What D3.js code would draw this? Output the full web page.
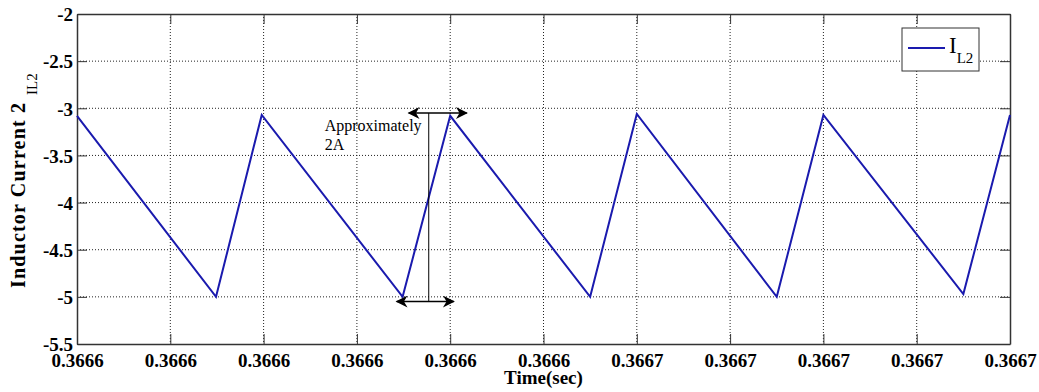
<!DOCTYPE html>
<html>
<head>
<meta charset="utf-8">
<script src="https://d3js.org/d3.v7.min.js"></script>
<style>
  html, body { margin: 0; padding: 0; background: #fff; }
  svg { display: block; }
  text { font-family: "Liberation Serif", "Times New Roman", serif; }
</style>
</head>
<body>
<svg id="chart" width="1039" height="392"></svg>
<script>
// Inductor current i_L2 (A) against simulation time (s)
const timeSec = [0.366628, 0.36663396, 0.36663592, 0.36664196, 0.366644, 0.36665,
                 0.366652, 0.366658, 0.36666, 0.366666, 0.366668];
const currentA = [-3.08, -5.00, -3.07, -5.00, -3.08, -5.00, -3.06, -5.00, -3.07, -4.97, -3.07];

const xTickValues = [0.366628, 0.366632, 0.366636, 0.36664, 0.366644, 0.366648,
                     0.366652, 0.366656, 0.36666, 0.366664, 0.366668];
const xTickLabels = ["0.3666", "0.3666", "0.3666", "0.3666", "0.3666", "0.3666",
                     "0.3667", "0.3667", "0.3667", "0.3667", "0.3667"];
const yTickValues = [-2, -2.5, -3, -3.5, -4, -4.5, -5, -5.5];
const yTickLabels = ["-2", "-2.5", "-3", "-3.5", "-4", "-4.5", "-5", "-5.5"];

// ripple annotation: peak-to-peak span marked near one rising edge
const rippleTime = 0.36664308;
const rippleSpan = [-3.05, -5.05];
const rippleText = ["Approximately", "2A"];

const svg = d3.select("#chart");
const margin = { left: 77, top: 14, right: 29, bottom: 48 };
const W = 1039 - margin.left - margin.right;
const H = 392 - margin.top - margin.bottom;

const x = d3.scaleLinear().domain([xTickValues[0], xTickValues[xTickValues.length - 1]]).range([0, W]);
const y = d3.scaleLinear().domain([-5.5, -2]).range([H, 0]);

const g = svg.append("g").attr("transform", `translate(${margin.left},${margin.top})`);

// dotted grid
const grid = g.append("g").attr("stroke", "#222").attr("stroke-width", 1).attr("stroke-dasharray", "1,2");
grid.selectAll("line.gx").data(xTickValues.slice(1, -1)).join("line")
  .attr("x1", d => x(d)).attr("x2", d => x(d)).attr("y1", 0).attr("y2", H);
grid.selectAll("line.gy").data(yTickValues.slice(1, -1)).join("line")
  .attr("y1", d => y(d)).attr("y2", d => y(d)).attr("x1", 0).attr("x2", W);

// axes with inward ticks on all four sides
const fmtX = d => xTickLabels[xTickValues.indexOf(d)];
const fmtY = d => yTickLabels[yTickValues.indexOf(d)];
const axB = g.append("g").attr("transform", `translate(0,${H})`)
  .call(d3.axisBottom(x).tickValues(xTickValues).tickFormat(fmtX).tickSizeInner(-10).tickSizeOuter(0).tickPadding(11));
const axT = g.append("g")
  .call(d3.axisTop(x).tickValues(xTickValues).tickFormat("").tickSizeInner(-10).tickSizeOuter(0));
const axL = g.append("g")
  .call(d3.axisLeft(y).tickValues(yTickValues).tickFormat(fmtY).tickSizeInner(-10).tickSizeOuter(0).tickPadding(4));
const axR = g.append("g").attr("transform", `translate(${W},0)`)
  .call(d3.axisRight(y).tickValues(yTickValues).tickFormat("").tickSizeInner(-10).tickSizeOuter(0));

[axB, axT, axL, axR].forEach(a => {
  a.select(".domain").attr("stroke", "#333").attr("stroke-width", 1.5);
  a.selectAll(".tick line").attr("stroke", "#333").attr("stroke-width", 1);
  a.selectAll("text").attr("fill", "#000")
    .style("font-family", "'Liberation Serif', 'Times New Roman', serif")
    .style("font-weight", "bold").style("font-size", "19px");
});
axB.selectAll(".tick text").attr("dy", "0.62em");
axL.selectAll(".tick text").attr("dy", "0.36em");

// waveform
const pts = timeSec.map((t, i) => [t, currentA[i]]);
g.append("path").datum(pts)
  .attr("fill", "none").attr("stroke", "#1a1aae").attr("stroke-width", 2)
  .attr("stroke-linejoin", "miter")
  .attr("d", d3.line().x(d => x(d[0])).y(d => y(d[1])));

// annotation arrows
const defs = svg.append("defs");
defs.append("marker").attr("id", "ah").attr("viewBox", "0 0 10 10").attr("refX", 9).attr("refY", 5)
  .attr("markerWidth", 14).attr("markerHeight", 12).attr("markerUnits", "userSpaceOnUse")
  .attr("orient", "auto-start-reverse")
  .append("path").attr("d", "M0,0 L10,5 L0,10 L3,5 Z").attr("fill", "#000");

const ax = x(rippleTime);
const ann = g.append("g").attr("stroke", "#000").attr("stroke-width", 1);
ann.append("line").attr("x1", ax).attr("x2", ax).attr("y1", y(rippleSpan[0])).attr("y2", y(rippleSpan[1]));
ann.append("line").attr("x1", ax - 20).attr("x2", ax + 38).attr("y1", y(rippleSpan[0])).attr("y2", y(rippleSpan[0]))
  .attr("stroke-width", 1.5).attr("marker-start", "url(#ah)").attr("marker-end", "url(#ah)");
ann.append("line").attr("x1", ax - 32).attr("x2", ax + 25).attr("y1", y(rippleSpan[1])).attr("y2", y(rippleSpan[1]))
  .attr("stroke-width", 1.5).attr("marker-start", "url(#ah)").attr("marker-end", "url(#ah)");
g.selectAll("text.ann").data(rippleText).join("text").attr("class", "ann")
  .attr("x", ax - 104).attr("y", (d, i) => y(rippleSpan[0]) + 18 + i * 19)
  .attr("font-size", 16).attr("fill", "#000").text(d => d);

// legend
const lg = g.append("g").attr("transform", `translate(${W - 108},14)`);
lg.append("rect").attr("width", 77).attr("height", 43).attr("fill", "#fff").attr("stroke", "#333").attr("stroke-width", 1);
lg.append("line").attr("x1", 6).attr("x2", 43).attr("y1", 20).attr("y2", 20).attr("stroke", "#1a1aae").attr("stroke-width", 2);
const lt = lg.append("text").attr("x", 47).attr("y", 25).attr("font-size", 23).attr("fill", "#000");
lt.append("tspan").text("I");
lt.append("tspan").attr("font-size", 15).attr("dy", 10).text("L2");

// axis titles
svg.append("text").attr("x", margin.left + W / 2).attr("y", 384).attr("text-anchor", "middle")
  .attr("font-weight", "bold").attr("font-size", 19).text("Time(sec)");
svg.append("text").attr("transform", "translate(25,288) rotate(-90)")
  .attr("text-anchor", "start").attr("font-weight", "bold").attr("font-size", 20)
  .attr("textLength", 185).attr("lengthAdjust", "spacing")
  .text("Inductor Current 2");
svg.append("text").attr("transform", "translate(37,95) rotate(-90)")
  .attr("text-anchor", "start").attr("font-size", 15).text("IL2");
</script>
</body>
</html>
